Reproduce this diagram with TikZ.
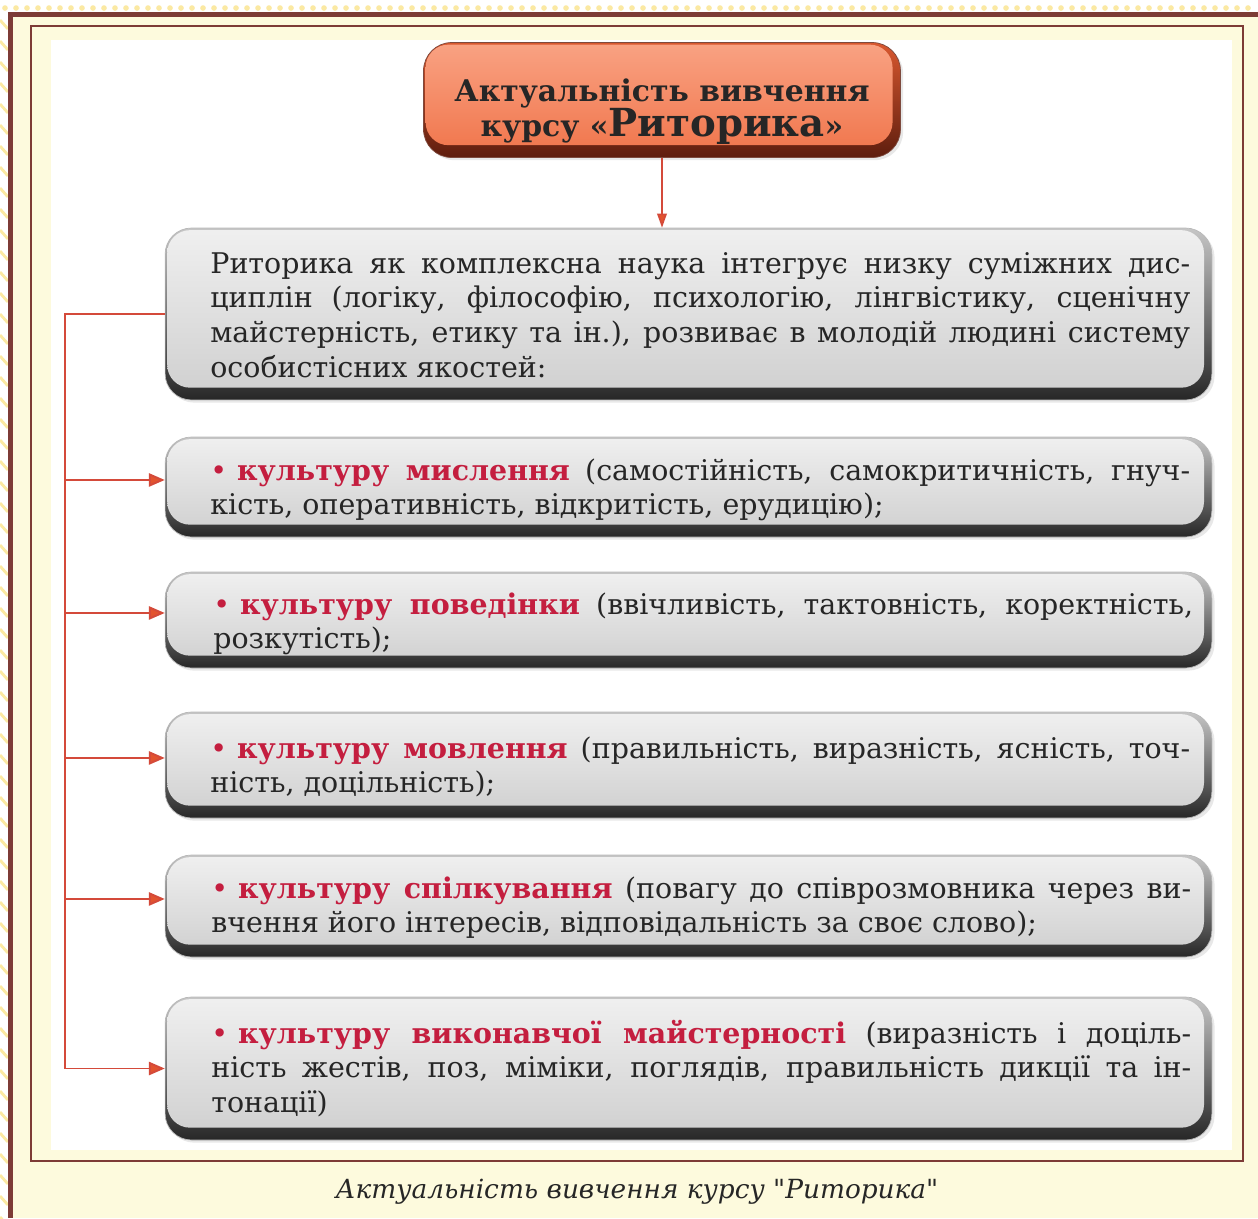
\documentclass[tikz,border=0pt]{standalone}
\usepackage{fontspec}
\setmainfont{DejaVu Serif}
\newfontfamily\capfont[Ligatures=TeXOff]{DejaVu Serif}
\usetikzlibrary{arrows.meta, calc, shadows}

\definecolor{cream}{HTML}{FDFADD}
\definecolor{frame}{HTML}{7D3B36}
\definecolor{dotyellow}{HTML}{FBE9A2}
\definecolor{linkred}{HTML}{D44A3A}
\definecolor{tipred}{HTML}{E2532E}
\definecolor{crimson}{HTML}{C41E3F}
\definecolor{ink}{HTML}{262626}
\definecolor{titlerim}{HTML}{D9582F}
\definecolor{titledark}{HTML}{5E1D0E}
\definecolor{titlehi}{HTML}{F9A283}
\definecolor{titlelo}{HTML}{F0744A}

\newcommand{\keyterm}[1]{\textcolor{crimson}{•}\hspace{0.35em}\textcolor{crimson}{\textbf{#1}}}

\tikzset{
  face/.style 2 args={path picture={
      \shade[rounded corners=13pt, top color=#1, bottom color=#2]
        ([xshift=1.2pt,yshift=-1.2pt]path picture bounding box.north west) rectangle
        ([xshift=-4.5pt,yshift=7pt]path picture bounding box.south east);}},
  greybox/.style={rounded corners=15pt, inner sep=0pt, minimum width=20.94cm,
    draw=gray!55, top color=gray!45, bottom color=black!85,
    drop shadow={opacity=0.18, shadow xshift=1.5pt, shadow yshift=-1.5pt},
    face={gray!12}{gray!38}},
  titlebox/.style={rounded corners=16pt, inner sep=0pt, minimum width=9.54cm,
    minimum height=2.3cm, draw=titledark!80, top color=titlerim, bottom color=titledark,
    drop shadow={opacity=0.18, shadow xshift=1.5pt, shadow yshift=-1.5pt},
    face={titlehi}{titlelo}},
  titletext/.style={align=center, inner sep=0pt, text=ink,
    font=\bfseries\fontsize{17pt}{20pt}\selectfont},
  bodytext/.style={anchor=base west, text width=19.6cm, align=justify, inner sep=0pt,
    text=ink, font=\fontsize{16.2pt}{19.9pt}\selectfont},
  link/.style={draw=linkred, line width=1.1pt},
  linktip/.style={-{Triangle[length=9pt,width=7.5pt,fill=tipred]}},
}

\begin{document}
\begin{tikzpicture}[x=0.02cm, y=-0.02cm]
    \useasboundingbox (0,0) rectangle (1258,1218);

    % page and frames
    \fill[white] (0,0) rectangle (1258,1218);
    \foreach \x in {5,16,...,1258} \fill[dotyellow] (\x,8) circle[radius=1.6pt];
    \foreach \y in {20,41,...,1218} \draw[dotyellow, line width=1.6pt] (0,\y) -- (8,\y+9);
    \fill[cream] (8,12) rectangle (1258,1218);
    \draw[frame, line width=2.9pt] (10.5,1218) -- (10.5,14.5) -- (1258,14.5);
    \draw[frame, line width=1.4pt] (31,26) rectangle (1243,1161);
    \fill[white] (51,40) rectangle (1232,1150);

    % heading
    \node[titlebox] (title) at (662,100) {};
    \node[titletext] (heading) at (662,112)
        {Актуальність вивчення\\курсу «{\fontsize{22pt}{22pt}\selectfont Риторика}»};

    % boxes
    \node[greybox, minimum height=3.44cm] (b1) at (688.5,314) {};
    \node[greybox, minimum height=2cm] (b2) at (688.5,487) {};
    \node[greybox, minimum height=1.92cm] (b3) at (688.5,620) {};
    \node[greybox, minimum height=2.12cm] (b4) at (688.5,765) {};
    \node[greybox, minimum height=2.04cm] (b5) at (688.5,906) {};
    \node[greybox, minimum height=2.86cm] (b6) at (688.5,1068.5) {};

    % texts
    \node[bodytext] (t1) at (210,273) {Риторика як комплексна наука інтегрує низку суміжних дис-\linebreak
        циплін (логіку, філософію, психологію, лінгвістику, сценічну\linebreak
        майстерність, етику та ін.), розвиває в молодій людині систему\linebreak
        особистісних якостей:};
    \node[bodytext] (t2) at (210,480) {\keyterm{культуру мислення} (самостійність, самокритичність, гнуч-\linebreak
        кість, оперативність, відкритість, ерудицію);};
    \node[bodytext] (t3) at (213,614) {\keyterm{культуру поведінки} (ввічливість, тактовність, коректність,\linebreak
        розкутість);};
    \node[bodytext] (t4) at (210,758) {\keyterm{культуру мовлення} (правильність, виразність, ясність, точ-\linebreak
        ність, доцільність);};
    \node[bodytext] (t5) at (211,898) {\keyterm{культуру спілкування} (повагу до співрозмовника через ви-\linebreak
        вчення його інтересів, відповідальність за своє слово);};
    \node[bodytext] (t6) at (211,1043) {\keyterm{культуру виконавчої майстерності} (виразність і доціль-\linebreak
        ність жестів, поз, міміки, поглядів, правильність дикції та ін-\linebreak
        тонації)};

    % connectors
    \draw[link, line width=0.9pt, -{Triangle[length=8pt,width=5.5pt,fill=tipred]}]
        (title.south) -- (title.south |- b1.north);
    \coordinate (spine) at (65,314);
    \draw[link, linktip] (b1.west) -| (spine |- b6.west) -- (b6.west);
    \foreach \b in {b2,b3,b4,b5}{
        \coordinate (\b-in) at ([yshift=4pt]\b.west);
        \draw[link, linktip] (spine |- \b-in) -- (\b-in);
    }

    % caption
    \node[text=ink, font=\capfont\itshape\fontsize{15pt}{18pt}\selectfont] (caption) at (637,1192)
        {Актуальність вивчення курсу "Риторика"};
\end{tikzpicture}
\end{document}
